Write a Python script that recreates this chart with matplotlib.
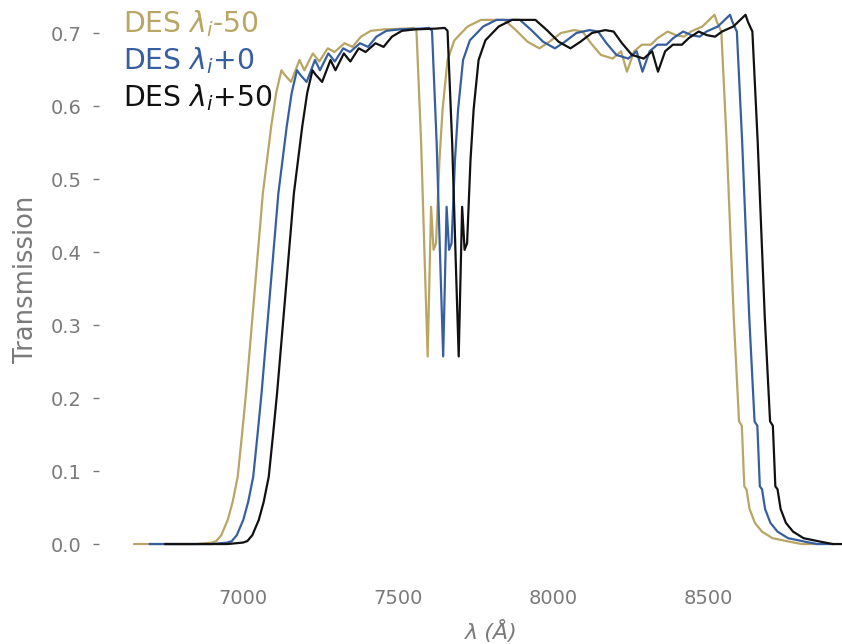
import numpy as np
import matplotlib
matplotlib.use("Agg")
import matplotlib.pyplot as plt

# --- DES i-band transmission (lambda_i + 0) ---
wave = [6700, 6800, 6900, 6950, 6964, 6980, 7001, 7017, 7033, 7047,
        7060, 7087, 7114, 7141, 7157, 7174, 7184, 7205,
        7232, 7248, 7275, 7296, 7323, 7345, 7377, 7403, 7430, 7462,
        7505, 7570, 7600, 7609, 7624, 7637, 7645, 7656, 7664, 7672,
        7683, 7693, 7709, 7731, 7774, 7817, 7892, 7929, 7967, 8005,
        8037, 8074, 8117, 8144, 8171, 8203, 8241, 8268, 8287, 8310,
        8335, 8364, 8386, 8418, 8445, 8471, 8493, 8530, 8569, 8577,
        8591, 8608, 8631, 8648, 8657, 8665, 8672, 8682, 8699, 8722,
        8756, 8813, 8850, 8900]
trans = [0.0, 0.0, 0.0, 0.002, 0.004, 0.012, 0.033, 0.058, 0.092, 0.15,
         0.207, 0.343, 0.48, 0.572, 0.618, 0.649, 0.643, 0.633,
         0.663, 0.649, 0.672, 0.661, 0.679, 0.674, 0.686, 0.681, 0.695, 0.703,
         0.705, 0.706, 0.707, 0.703, 0.549, 0.366, 0.257, 0.462, 0.403, 0.412,
         0.526, 0.595, 0.663, 0.690, 0.709, 0.718, 0.718, 0.704, 0.688, 0.679,
         0.688, 0.700, 0.704, 0.702, 0.686, 0.670, 0.665, 0.675, 0.647, 0.675,
         0.684, 0.684, 0.693, 0.702, 0.697, 0.695, 0.702, 0.709, 0.725, 0.715,
         0.702, 0.552, 0.31, 0.168, 0.162, 0.079, 0.075, 0.048, 0.029, 0.017,
         0.008, 0.003, 0.0, 0.0]

shifts = [-50, 0, 50]
labels = [r"DES $\lambda_i$-50", r"DES $\lambda_i$+0", r"DES $\lambda_i$+50"]
colors = ["#b9a564", "#375fa0", "#111111"]

grey = "#7a7a7a"

fig = plt.figure(figsize=(8.42, 6.44), dpi=100)
# axes runs a little past the right and top edges, like the cropped original
ax = fig.add_axes([98.6 / 842, 73.5 / 644, 785.4 / 842, 582.2 / 644])

wave = np.array(wave, dtype=float)
for s, c in zip(shifts, colors):
    ax.plot(wave + s, trans, color=c, lw=1.6)

ax.set_xlim(6535, 9065)
ax.set_ylim(-0.03625, 0.76125)
ax.set_xticks([7000, 7500, 8000, 8500])
ax.set_yticks([0.0, 0.1, 0.2, 0.3, 0.4, 0.5, 0.6, 0.7])

for sp in ax.spines.values():
    sp.set_visible(False)

ax.tick_params(axis="y", colors=grey, labelsize=14, length=4.3, width=1, pad=8)
ax.tick_params(axis="x", colors=grey, labelsize=14, length=0, pad=13)

ax.set_ylabel("Transmission", color=grey, fontsize=18.5, labelpad=8)
ax.set_xlabel("λ (Å)", color=grey, fontsize=16, style="italic", labelpad=9)

# coloured legend text, no handles
baselines = [32.3, 69.5, 106.7]
for lab, c, yb in zip(labels, colors, baselines):
    fig.text(123 / 842, 1 - yb / 644, lab, color=c, fontsize=20.3,
             va="baseline", ha="left")

fig.savefig("out.png", dpi=100)
